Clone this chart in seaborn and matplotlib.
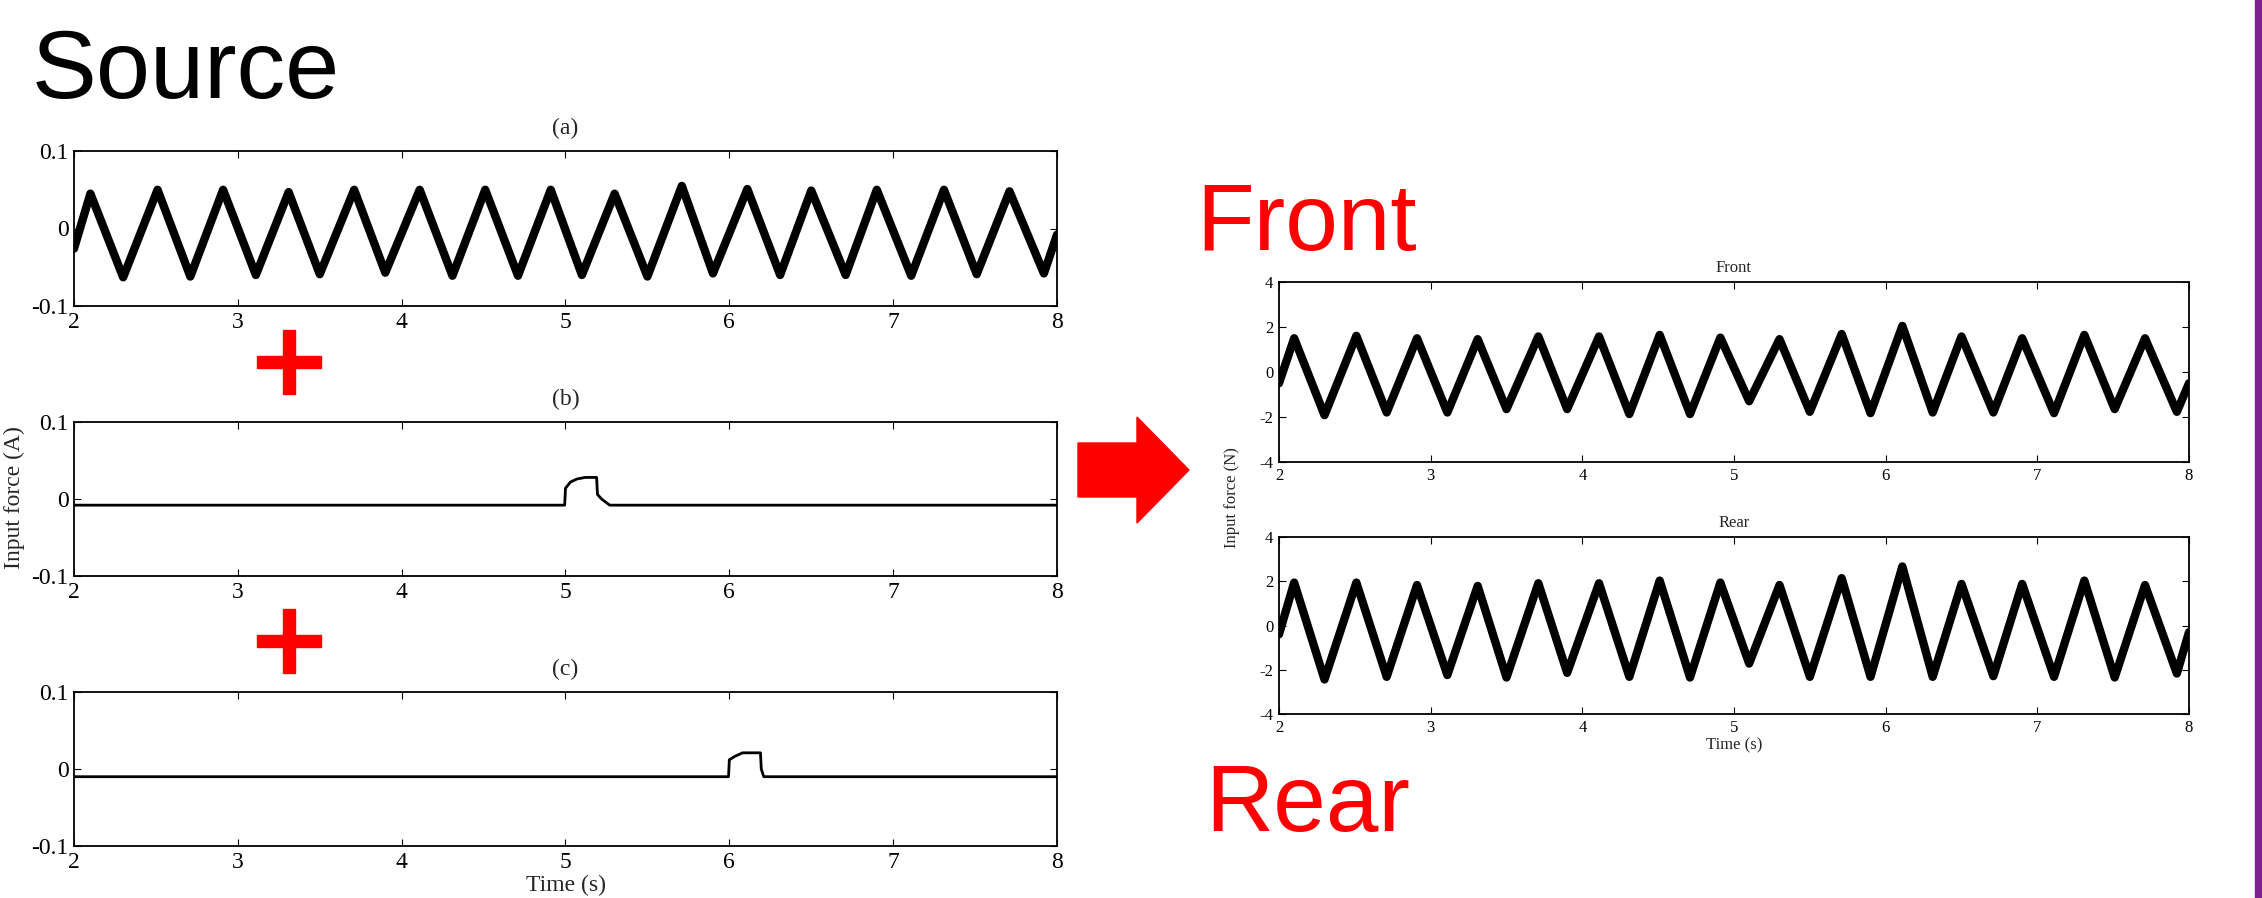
import pandas as pd
import matplotlib
matplotlib.use("Agg")
import matplotlib.pyplot as plt
import seaborn as sns
from matplotlib.patches import Polygon, Rectangle

# ---- values ----
# times of the peaks / troughs of the ~2.5 Hz oscillation (s)
peak_t = [2.10, 2.51, 2.91, 3.31, 3.71, 4.11, 4.51, 4.91, 5.30, 5.71, 6.11, 6.50, 6.90, 7.31, 7.71]
trough_t = [2.30, 2.71, 3.11, 3.50, 3.90, 4.31, 4.71, 5.10, 5.50, 5.90, 6.31, 6.71, 7.11, 7.51, 7.92]

# (a) source signal, band centre at each extremum
a_peaks = [0.045, 0.050, 0.050, 0.047, 0.050, 0.050, 0.050, 0.050, 0.045, 0.055, 0.051, 0.049, 0.050, 0.050, 0.048]
a_troughs = [-0.063, -0.062, -0.060, -0.059, -0.057, -0.061, -0.061, -0.060, -0.062, -0.058, -0.060, -0.060, -0.061, -0.059, -0.058]
a_start, a_end = -0.026, -0.008

# front / rear output force
front_peaks = [1.50, 1.61, 1.50, 1.46, 1.58, 1.58, 1.65, 1.53, 1.46, 1.69, 2.05, 1.58, 1.50, 1.65, 1.50]
front_troughs = [-1.92, -1.80, -1.80, -1.65, -1.65, -1.87, -1.87, -1.30, -1.77, -1.83, -1.80, -1.80, -1.83, -1.65, -1.77]
front_start, front_end = -0.5, -0.5
rear_peaks = [1.94, 1.94, 1.83, 1.79, 1.91, 1.91, 2.03, 1.94, 1.83, 2.14, 2.67, 1.88, 1.88, 2.03, 1.83]
rear_troughs = [-2.44, -2.32, -2.24, -2.35, -2.14, -2.32, -2.35, -1.72, -2.32, -2.32, -2.32, -2.29, -2.32, -2.35, -2.17]
rear_start, rear_end = -0.4, -0.3

# (b) and (c) pulses
b_t = [2.0, 4.995, 5.0, 5.03, 5.07, 5.12, 5.19, 5.195, 5.22, 5.27, 8.0]
b_v = [-0.008, -0.008, 0.014, 0.022, 0.026, 0.028, 0.028, 0.006, 0.0, -0.008, -0.008]
c_t = [2.0, 5.995, 6.0, 6.03, 6.08, 6.19, 6.195, 6.21, 8.0]
c_v = [-0.010, -0.010, 0.012, 0.016, 0.021, 0.021, 0.0, -0.010, -0.010]

x_ticks = [2, 3, 4, 5, 6, 7, 8]
x_tick_labels = ["2", "3", "4", "5", "6", "7", "8"]
yticks_a = [-0.1, 0, 0.1]
ylabels_a = ["-0.1", "0", "0.1"]
yticks_n = [-4, -2, 0, 2, 4]
ylabels_n = ["-4", "-2", "0", "2", "4"]


def wave(start, peaks, troughs, end):
    t, v = [2.0], [start]
    for tp, p, tt, tr in zip(peak_t, peaks, trough_t, troughs):
        t += [tp, tt]
        v += [p, tr]
    t.append(8.0)
    v.append(end)
    return pd.DataFrame({"t": t, "v": v})


sns.set_style("ticks")
plt.rcParams["font.family"] = ["Liberation Serif", "DejaVu Serif"]
plt.rcParams["axes.unicode_minus"] = False

W, H = 2262, 898
fig = plt.figure(figsize=(W / 100, H / 100), dpi=100)
fig.patch.set_facecolor("white")


def px_axes(left, top, right, bottom):
    return fig.add_axes([left / W, 1 - bottom / H, (right - left) / W, (bottom - top) / H])


def style(ax, ylim, yticks, ylabels, fs, pad):
    ax.set_xlim(2, 8)
    ax.set_ylim(*ylim)
    ax.set_xticks(x_ticks)
    ax.set_xticklabels(x_tick_labels)
    ax.set_yticks(yticks)
    ax.set_yticklabels(ylabels)
    ax.tick_params(direction="in", top=True, right=True, length=5, width=0.8,
                   labelsize=fs, pad=pad, colors="black")
    for s in ax.spines.values():
        s.set_linewidth(1.3)
        s.set_color("black")
    ax.set_xlabel("")
    ax.set_ylabel("")


# ---- left: source signals ----
ax_a = px_axes(74, 151, 1057, 306)
ax_b = px_axes(74, 422, 1057, 576)
ax_c = px_axes(74, 692, 1057, 846)

sns.lineplot(data=wave(a_start, a_peaks, a_troughs, a_end), x="t", y="v", ax=ax_a,
             color="black", linewidth=6, sort=False, estimator=None, solid_joinstyle="round")
sns.lineplot(x=b_t, y=b_v, ax=ax_b, color="black", linewidth=2, sort=False, estimator=None)
sns.lineplot(x=c_t, y=c_v, ax=ax_c, color="black", linewidth=2, sort=False, estimator=None)

for ax, lab in zip([ax_a, ax_b, ax_c], ["(a)", "(b)", "(c)"]):
    style(ax, (-0.1, 0.1), yticks_a, ylabels_a, 17, 4)
    ax.set_title(lab, fontsize=17, pad=12)
ax_c.set_xlabel("Time (s)", fontsize=17, labelpad=2)
fig.text(14 / W, 1 - 498 / H, "Input force (A)", rotation=90, ha="center", va="center", fontsize=17)

# ---- right: front / rear ----
ax_f = px_axes(1279, 282, 2189, 462)
ax_r = px_axes(1279, 537, 2189, 714)
sns.lineplot(data=wave(front_start, front_peaks, front_troughs, front_end), x="t", y="v", ax=ax_f,
             color="black", linewidth=6, sort=False, estimator=None, solid_joinstyle="round")
sns.lineplot(data=wave(rear_start, rear_peaks, rear_troughs, rear_end), x="t", y="v", ax=ax_r,
             color="black", linewidth=6, sort=False, estimator=None, solid_joinstyle="round")
for ax, lab in zip([ax_f, ax_r], ["Front", "Rear"]):
    style(ax, (-4, 4), yticks_n, ylabels_n, 12, 4)
    ax.set_title(lab, fontsize=12, pad=7)
ax_r.set_xlabel("Time (s)", fontsize=12, labelpad=1)
fig.text(1232 / W, 1 - 498 / H, "Input force (N)", rotation=90, ha="center", va="center", fontsize=12)

# ---- slide decorations ----
sans = ["Liberation Sans", "DejaVu Sans"]
fig.text(32 / W, 1 - 98 / H, "Source", fontsize=70, family=sans, va="baseline", color="black")
fig.text(1196 / W, 1 - 250 / H, "Front", fontsize=68, family=sans, va="baseline", color="red")
fig.text(1205 / W, 1 - 831 / H, "Rear", fontsize=68, family=sans, va="baseline", color="red")


def fx(x):
    return x / W


def fy(y):
    return 1 - y / H


for cy in [362, 641]:
    fig.patches.append(Rectangle((fx(257), fy(cy + 6)), 64 / W, 12 / H, color="red",
                                 transform=fig.transFigure, figure=fig))
    fig.patches.append(Rectangle((fx(283), fy(cy + 32)), 12 / W, 64 / H, color="red",
                                 transform=fig.transFigure, figure=fig))

arrow = [(1078, 443), (1137, 443), (1137, 417), (1189, 470), (1137, 523), (1137, 497), (1078, 497)]
fig.patches.append(Polygon([(fx(x), fy(y)) for x, y in arrow], closed=True, color="red",
                           transform=fig.transFigure, figure=fig))

fig.patches.append(Rectangle((fx(2255), 0), 7 / W, 1, color="#7b1f91",
                             transform=fig.transFigure, figure=fig))

fig.savefig("out.png", dpi=100)
